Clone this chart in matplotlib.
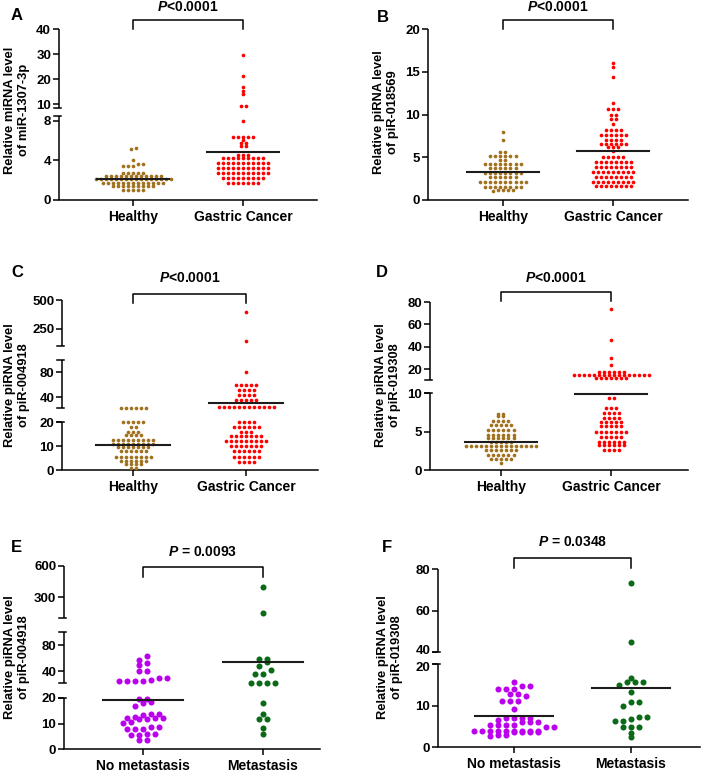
import numpy as np
import matplotlib
matplotlib.use("Agg")
import matplotlib.pyplot as plt
import matplotlib.transforms as mtransforms

plt.rcParams["font.family"] = ["Liberation Sans", "DejaVu Sans"]
plt.rcParams["font.weight"] = "bold"
plt.rcParams["mathtext.fontset"] = "custom"
plt.rcParams["mathtext.it"] = "Liberation Sans:italic:bold"
plt.rcParams["mathtext.rm"] = "Liberation Sans:bold"

W, H = 709, 772
BROWN, RED, PURPLE, GREEN = "#a0711f", "#ff0000", "#bb00ee", "#0a6a18"

# ---- values ----
A_healthy = [5.2, 5.1, 4.05, 3.6, 3.6, 3.4, 3.4, 3.4, 2.75, 2.75, 2.75, 2.75, 2.75,
             2.45, 2.45, 2.45, 2.45, 2.45, 2.45, 2.45, 2.45, 2.45, 2.45, 2.45, 2.45,
             2.1, 2.1, 2.1, 2.1, 2.1, 2.1, 2.1, 2.1, 2.1, 2.1, 2.1, 2.1, 2.1, 2.1, 2.1, 2.1,
             1.75, 1.75, 1.75, 1.75, 1.75, 1.75, 1.75, 1.75, 1.75, 1.75, 1.75, 1.75, 1.75,
             1.4, 1.4, 1.4, 1.4, 1.4, 1.4, 1.4, 1.4, 1.4,
             1.05, 1.05, 1.05, 1.05, 1.05]
A_gastric = [29.7, 21.2, 17.1, 15.5, 14.1, 9.2, 9.2, 8.0,
             6.4, 6.4, 6.4, 6.4, 6.4, 6.1, 5.7, 5.7, 5.4, 5.4, 4.5, 4.5, 4.5,
             4.2, 4.2, 4.2, 4.2, 4.2, 4.2, 4.2, 4.2, 4.2,
             3.7, 3.7, 3.7, 3.7, 3.7, 3.7, 3.7, 3.7, 3.7, 3.7, 3.7,
             3.2, 3.2, 3.2, 3.2, 3.2, 3.2, 3.2, 3.2, 3.2, 3.2, 3.2,
             2.7, 2.7, 2.7, 2.7, 2.7, 2.7, 2.7, 2.7, 2.7, 2.7, 2.7,
             2.2, 2.2, 2.2, 2.2, 2.2, 2.2, 2.2, 2.2, 2.2,
             1.7, 1.7, 1.7, 1.7, 1.7, 1.7, 1.7]
B_healthy = [7.9, 7.0, 5.6, 5.6, 5.2, 5.2, 5.2, 5.2, 5.2, 5.2, 4.7, 4.7,
             4.2, 4.2, 4.2, 4.2, 4.2, 4.2, 4.2, 4.2, 3.7, 3.7, 3.7, 3.7, 3.7, 3.7,
             3.2, 3.2, 3.2, 3.2, 3.2, 3.2, 3.2, 3.2, 2.7, 2.7, 2.7, 2.7, 2.7, 2.7,
             2.1, 2.1, 2.1, 2.1, 2.1, 2.1, 2.1, 2.1, 2.1, 2.1,
             1.55, 1.55, 1.55, 1.55, 1.55, 1.55, 1.55, 1.55, 1.2, 1.2, 1.2, 1.2, 1.0]
B_gastric = [16.0, 15.5, 14.4, 11.4, 10.7, 10.7, 10.7, 10.0, 10.0, 9.5, 9.5, 8.9,
             8.2, 8.2, 8.2, 8.2, 7.6, 7.6, 7.6, 7.6, 7.6, 7.6, 7.0, 7.0, 7.0, 7.0,
             6.6, 6.6, 6.6, 6.6, 6.6, 6.6, 6.2, 6.2, 6.2, 5.7,
             5.0, 5.0, 5.0, 5.0, 5.0, 4.5, 4.5, 4.5, 4.5, 4.5, 4.5, 4.5, 4.5,
             3.9, 3.9, 3.9, 3.9, 3.9, 3.9, 3.9, 3.9, 3.3, 3.3, 3.3, 3.3, 3.3, 3.3, 3.3, 3.3, 3.3,
             2.7, 2.7, 2.7, 2.7, 2.7, 2.7, 2.7, 2.7, 2.1, 2.1, 2.1, 2.1, 2.1, 2.1, 2.1, 2.1, 2.1,
             1.6, 1.6, 1.6, 1.6, 1.6, 1.6, 1.6, 1.6]
C_healthy = [23, 23, 23, 23, 23, 23, 19.8, 19.8, 19.8, 19.8, 19.8, 18, 18, 16, 16, 16,
             14.6, 14.6, 14.6, 14.6, 12.5, 12.5, 12.5, 12.5, 12.5, 12.5, 12.5, 12.5, 12.5,
             11, 11, 11, 11, 11, 11, 11, 11, 11, 9.7, 9.7, 9.7, 9.7, 9.7, 9.7, 9.7,
             8, 8, 8, 8, 8, 8, 5.6, 5.6, 5.6, 5.6, 5.6, 5.6, 5.6, 5.6,
             3.8, 3.8, 3.8, 3.8, 3.8, 3.8, 2.4, 2.4, 2.4, 2.4, 1.0, 1.0]
C_gastric = [400, 150, 80, 60, 60, 60, 60, 60, 51, 51, 51, 51, 43, 43, 43, 43,
             35, 35, 35, 35, 35, 24, 24, 24, 24, 24, 24, 24, 24, 24, 24, 24, 24,
             20, 20, 20, 20, 18, 18, 18, 18, 18, 18, 16, 16, 16,
             14, 14, 14, 14, 14, 14, 14, 12, 12, 12, 12, 12, 12, 12, 12, 12,
             10, 10, 10, 10, 10, 10, 10, 8, 8, 8, 8, 8, 8,
             5.6, 5.6, 5.6, 5.6, 5.6, 5.6, 3.5, 3.5, 3.5, 3.5]
D_healthy = [7.3, 7.3, 7.0, 7.0, 6.3, 6.3, 6.3, 6.3, 5.8, 5.8, 5.8, 5.8, 5.8,
             5.2, 5.2, 5.2, 5.2, 5.2, 5.2, 4.6, 4.6, 4.6, 4.6, 4.6, 4.6,
             4.2, 4.2, 4.2, 4.2, 4.2, 4.2, 3.6, 3.6, 3.6, 3.6, 3.6,
             3.1, 3.1, 3.1, 3.1, 3.1, 3.1, 3.1, 3.1, 3.1, 3.1, 3.1, 3.1, 3.1, 3.1, 3.1,
             2.6, 2.6, 2.6, 2.6, 2.6, 2.6, 2.6, 2.0, 2.0, 2.0, 2.0, 2.0, 2.0,
             1.4, 1.4, 1.4, 1.4, 1.4, 0.9]
D_gastric = [73.8, 45.8, 29.8, 23.5, 17, 17, 17, 17, 17, 17,
             14.6, 14.6, 14.6, 14.6, 14.6, 14.6, 14.6, 14.6, 14.6, 14.6, 14.6, 14.6, 14.6, 14.6, 14.6, 14.6,
             12, 12, 12, 12, 12, 12, 12, 9.4, 9.4, 8.0, 8.0, 8.0, 7.4, 7.4, 7.4, 7.4,
             6.8, 6.8, 6.8, 6.8, 6.2, 6.2, 6.2, 6.2, 6.2, 5.7, 5.7, 5.7, 5.7, 5.7,
             5.0, 5.0, 5.0, 5.0, 5.0, 5.0, 5.0, 4.3, 4.3, 4.3, 4.3, 4.3,
             3.7, 3.7, 3.7, 3.7, 3.7, 3.7, 3.2, 3.2, 3.2, 3.2, 3.2, 3.2, 2.6, 2.6, 2.6, 2.6]
E_nomet = [63, 57, 52, 49, 40, 40, 30, 30, 25, 25, 25, 25, 26,
           19.6, 19.6, 18.5, 17.9, 16.8, 13.7, 13.2, 13.7, 12.4, 12.0, 11.6, 11.6, 12.3, 12.0,
           10.7, 8.8, 8.0, 7.9, 8.0, 8.6, 10.3, 5.7, 5.3, 5.5, 5.8, 3.4, 3.4]
E_met = [400, 150, 58, 58, 54, 47.7, 41.5, 35.4, 35.4, 22.5, 22.5, 22.5, 22.5,
         17.9, 13.7, 11.6, 11.6, 8.1, 5.8]
F_nomet = [15.7, 14.8, 14.8, 14.0, 14.0, 14.0, 12.8, 12.8, 12.2, 11.2, 11.2, 11.2, 9.2,
           6.9, 6.9, 6.9, 6.9, 6.5, 6.0, 6.0, 6.0, 5.3, 5.3, 5.3, 5.3, 4.9, 4.9,
           3.9, 3.9, 3.9, 3.9, 3.9, 3.9, 3.9, 3.9, 3.9, 3.5, 3.5, 3.5, 3.5, 3.0, 3.0, 2.6]
F_met = [73.2, 45, 16.7, 15.7, 15.7, 15.7, 15.0, 13.2, 10.9, 10.9, 10.0,
         7.3, 7.3, 6.7, 6.3, 6.3, 4.7, 4.7, 4.7, 3.4, 2.3]

means = {"A": [2.12, 4.88], "B": [3.23, 5.72], "C": [10.3, 30.9],
         "D": [3.7, 9.9], "E": [19.2, 54.3], "F": [7.4, 14.2]}
pvals = {"A": "$\\mathit{P}$<0.0001", "B": "$\\mathit{P}$<0.0001", "C": "$\\mathit{P}$<0.0001",
         "D": "$\\mathit{P}$<0.0001", "E": "$\\mathit{P}$ = 0.0093", "F": "$\\mathit{P}$ = 0.0348"}
cancer_groups = ["Healthy", "Gastric Cancer"]
meta_groups = ["No metastasis", "Metastasis"]

fig = plt.figure(figsize=(W / 100, H / 100), dpi=100)


def row_layout(h, d, tol):
    # GraphPad-style scatter: nearby values share a row, rows are centred
    order = np.argsort(h, kind="stable")
    xs = np.zeros(len(h))
    rows, row = [], [order[0]]
    for i in order[1:]:
        if h[i] - h[row[0]] <= tol:
            row.append(i)
        else:
            rows.append(row)
            row = [i]
    rows.append(row)
    for r in rows:
        for k, i in enumerate(r):
            xs[i] = (k - (len(r) - 1) / 2) * d
    return xs


def panel(key, box, xt, segs, yticks, ylabel, groups, data, colors, br, ptext_y,
          letter_xy, ylab_xy, dot, gap, tol, nudge=None):
    left, right, bottom, top = box
    ppu = xt[1] - xt[0]
    ax = fig.add_axes([left / W, 1 - bottom / H, (right - left) / W, (bottom - top) / H])
    dbp = [v for s in segs for v in s[:2]]
    hbp = [v for s in segs for v in s[2:]]
    fwd = lambda y: np.interp(y, dbp, hbp)
    inv = lambda h: np.interp(h, hbp, dbp)
    ax.set_yscale("function", functions=(fwd, inv))
    ax.set_ylim(0, dbp[-1])
    ax.set_xlim((left - xt[0]) / ppu, (right - xt[0]) / ppu)

    for i, (vals, col) in enumerate(zip(data, colors)):
        vals = np.asarray(vals, float)
        off = row_layout(fwd(vals), gap, tol) / ppu
        ax.scatter(i + off, vals, s=dot, color=col, linewidths=0, zorder=3, clip_on=False)
        m = means[key][i]
        ax.plot([i - 0.33, i + 0.33], [m, m], color="#1c1c1c", lw=1.5, zorder=4)

    for s in ["top", "right", "left"]:
        ax.spines[s].set_visible(False)
    ax.spines["bottom"].set_linewidth(1.1)
    yt = ax.get_yaxis_transform()
    cap_l, cap_r = 5 / (right - left), 2 / (right - left)
    for j, s in enumerate(segs):
        ax.plot([0, 0], [s[0], s[1]], transform=yt, color="k", lw=1.1, clip_on=False,
                solid_capstyle="butt")
        if j > 0:
            ax.plot([-cap_l, cap_r], [s[0], s[0]], transform=yt, color="k", lw=1.1, clip_on=False)
        if j < len(segs) - 1:
            ax.plot([-cap_l, cap_r], [s[1], s[1]], transform=yt, color="k", lw=1.1, clip_on=False)

    ax.set_yticks(yticks)
    ax.set_yticklabels([str(t) for t in yticks])
    ax.minorticks_off()
    ax.tick_params(axis="y", length=4, width=1.1, labelsize=9.5, pad=1.5)
    if nudge:
        for lab, t in zip(ax.get_yticklabels(), yticks):
            if t in nudge:
                lab.set_transform(lab.get_transform() + mtransforms.ScaledTranslation(
                    0, nudge[t] / 72, fig.dpi_scale_trans))
    ax.set_xticks([0, 1])
    ax.set_xticklabels(groups)
    ax.tick_params(axis="x", length=4, width=1.1, labelsize=10, pad=3)

    hgt = bottom - top
    y_top, y_leg = (bottom - br[0]) / hgt, (bottom - br[1]) / hgt
    xa = ax.get_xaxis_transform()
    ax.plot([0, 0, 1, 1], [y_leg, y_top, y_top, y_leg], transform=xa, color="k", lw=1.1,
            clip_on=False)
    ax.text(0.5, (bottom - ptext_y) / hgt, pvals[key], transform=xa, ha="center", va="center",
            fontsize=10, fontweight="bold")

    fig.text(letter_xy[0] / W, 1 - letter_xy[1] / H, key, fontsize=12, fontweight="bold",
             ha="center", va="center")
    fig.text(ylab_xy[0] / W, 1 - ylab_xy[1] / H, ylabel, rotation=90, ha="center", va="center",
             fontsize=9.3, fontweight="bold", linespacing=1.3, multialignment="center")
    return ax


panel("A", (58.7, 317, 200, 29.3), (133, 243),
      [(0, 8.5, 0, 84.3), (8.5001, 40, 92, 170.7)], [0, 4, 8, 10, 20, 30, 40],
      "Relative miRNA level\nof miR-1307-3p", cancer_groups, [A_healthy, A_gastric],
      [BROWN, RED], (20, 29), 7, (17, 15), (17, 110), 7, 5.0, 2.2)
panel("B", (428, 688, 200, 29), (503, 613),
      [(0, 20, 0, 171)], [0, 5, 10, 15, 20],
      "Relative piRNA level\nof piR-018569", cancer_groups, [B_healthy, B_gastric],
      [BROWN, RED], (20, 29), 7, (383, 17), (386, 112), 7, 5.0, 2.2)
panel("C", (62, 318, 470, 300), (133, 246),
      [(0, 20, 0, 48), (22, 100, 61.7, 110.5), (100.0001, 500, 123.7, 170)],
      [0, 10, 20, 40, 80, 250, 500],
      "Relative piRNA level\nof piR-004918", cancer_groups, [C_healthy, C_gastric],
      [BROWN, RED], (294.3, 303.3), 278, (17, 273), (17, 385), 7, 5.0, 2.2)
panel("D", (430, 688, 470, 302), (501, 611),
      [(0, 10, 0, 77), (10.0001, 80, 89.8, 168)], [0, 5, 10, 20, 40, 60, 80],
      "Relative piRNA level\nof piR-019308", cancer_groups, [D_healthy, D_gastric],
      [BROWN, RED], (291.7, 301), 278, (382, 273), (388, 385), 7, 5.0, 2.2)
panel("E", (64, 320, 749, 566), (143, 263),
      [(0, 20, 0, 51), (22, 100, 66, 117), (100.0001, 600, 131, 183)],
      [0, 10, 20, 40, 80, 300, 600],
      "Relative piRNA level\nof piR-004918", meta_groups, [E_nomet, E_met],
      [PURPLE, GREEN], (567.3, 577.3), 551.7, (16, 547), (17, 657), 19, 8.0, 4.5)
panel("F", (438, 700, 747, 569), (514, 631),
      [(0, 20, 0, 83), (40, 80, 95, 178)], [0, 10, 20, 40, 60, 80],
      "Relative piRNA level\nof piR-019308", meta_groups, [F_nomet, F_met],
      [PURPLE, GREEN], (558.3, 568.3), 542.3, (387, 548), (390, 657), 19, 8.0, 4.5,
      nudge={40: 2, 20: -1.5})

fig.savefig("out.png", dpi=100)
